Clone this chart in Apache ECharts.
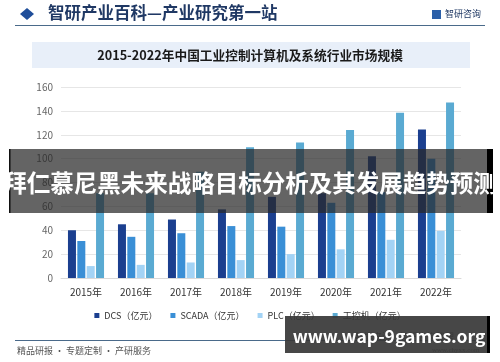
<!DOCTYPE html>
<html>
<head>
<meta charset="utf-8">
<script src="https://cdn.jsdelivr.net/npm/echarts@6/dist/echarts.min.js"></script>
<style>html,body{margin:0;padding:0;background:#fff;}#c{width:500px;height:362px;}</style>
</head>
<body>
<div id="c"></div>
<script>
const categories = ['2015年','2016年','2017年','2018年','2019年','2020年','2021年','2022年'];
const seriesNames = ['DCS（亿元）','SCADA（亿元）','PLC（亿元）','工控机（亿元）'];
const dcs = [40, 45, 49, 57.5, 68, 71, 102, 124.5];
const scada = [31, 34.5, 37.5, 43.5, 43, 63, 72, 100];
const plc = [10, 11, 13, 15, 20, 24, 32, 39.5];
const ipc = [71, 71, 89, 109.5, 113.5, 124, 138.5, 147];
const yTicks = [0, 20, 40, 60, 80, 100, 120, 140, 160];
const colors = ['#1b3f8f', '#3a8fd6', '#a3d3f5', '#5aaad2'];

const font = '"Noto Sans CJK SC", "Noto Sans", sans-serif';
const chart = echarts.init(document.getElementById('c'), null, {renderer: 'canvas'});
const mk = (name, data, i) => ({
  name, type: 'bar', data, barWidth: 8, barGap: '17%',
  itemStyle: {color: colors[i]}
});
chart.setOption({
  animation: false,
  textStyle: {fontFamily: font},
  grid: {left: 61, right: 39, top: 87, bottom: 84},
  legend: {
    top: 306, left: 'center', itemWidth: 5, itemHeight: 5, itemGap: 13,
    icon: 'rect',
    textStyle: {fontSize: 9, color: '#333', fontFamily: font},
    data: seriesNames
  },
  xAxis: {
    type: 'category', data: categories,
    axisLine: {lineStyle: {color: '#d9d9d9'}},
    axisTick: {show: false},
    axisLabel: {fontSize: 10, color: '#333', margin: 9}
  },
  yAxis: {
    type: 'value', min: yTicks[0], max: yTicks[yTicks.length - 1], interval: 20,
    axisLine: {show: false}, axisTick: {show: false},
    axisLabel: {fontSize: 10, color: '#666', margin: 8},
    splitLine: {lineStyle: {color: '#e6e6e6'}}
  },
  series: [mk(seriesNames[0], dcs, 0), mk(seriesNames[1], scada, 1), mk(seriesNames[2], plc, 2), mk(seriesNames[3], ipc, 3)],
  graphic: [
    {type: 'polygon', shape: {points: [[27,8],[34,14],[27,20],[20,14]]}, style: {fill: '#1f4e9a'}},
    {type: 'text', left: 48, top: 4, style: {text: '智研产业百科—产业研究第一站', font: 'bold 16.5px ' + font, fill: '#1f3864'}},
    {type: 'rect', shape: {x: 432, y: 10, width: 9, height: 9}, style: {fill: '#2b5fa8'}},
    {type: 'text', left: 445, top: 9, style: {text: '智研咨询', font: '9px ' + font, fill: '#1f3864'}},
    {type: 'line', shape: {x1: 15, y1: 25.5, x2: 485, y2: 25.5}, style: {stroke: '#4a6a8a', lineWidth: 1}},
    {type: 'rect', shape: {x: 32, y: 42, width: 438, height: 26}, style: {fill: '#e8eff9'}},
    {type: 'text', x: 250, y: 55, style: {text: '2015-2022年中国工业控制计算机及系统行业市场规模', font: 'bold 12.7px ' + font, fill: '#1a1a1a', align: 'center', verticalAlign: 'middle'}},
    {type: 'line', shape: {x1: 15, y1: 340.5, x2: 485, y2: 340.5}, style: {stroke: '#4a6a8a', lineWidth: 1}},
    {type: 'text', left: 17, top: 346, style: {text: '精品研报 · 专题定制 · 产研服务', font: '9px ' + font, fill: '#555'}},
    {type: 'text', left: 355, top: 332, style: {text: '数据来源：智研咨询整理', font: '9px ' + font, fill: '#555'}},
    {type: 'text', left: 432, top: 347, style: {text: 'www.chyxx.com', font: '7px serif', fill: '#666'}},
    {type: 'rect', z: 100, shape: {x: 9, y: 149, width: 478, height: 64}, style: {fill: 'rgba(40,40,40,0.72)'}},
    {type: 'rect', z: 100, shape: {x: 9, y: 149, width: 1.5, height: 64}, style: {fill: '#111'}},
    {type: 'rect', z: 100, shape: {x: 487, y: 149, width: 6, height: 64}, style: {fill: '#000'}},
    {type: 'text', z: 101, x: 250, y: 183.5, style: {text: '拜仁慕尼黑未来战略目标分析及其发展趋势预测', font: 'bold 23.5px ' + font, fill: '#fff', align: 'center', verticalAlign: 'middle'}},
    {type: 'rect', z: 100, shape: {x: 285, y: 316, width: 202, height: 37}, style: {fill: 'rgba(55,55,55,0.92)'}},
    {type: 'rect', z: 100, shape: {x: 487, y: 316, width: 3, height: 37}, style: {fill: '#000'}},
    {type: 'text', z: 101, x: 389, y: 336, style: {text: 'www.wap-9games.org', font: 'bold 17.5px ' + font, fill: '#fff', align: 'center', verticalAlign: 'middle'}}
  ]
});
</script>
</body>
</html>
